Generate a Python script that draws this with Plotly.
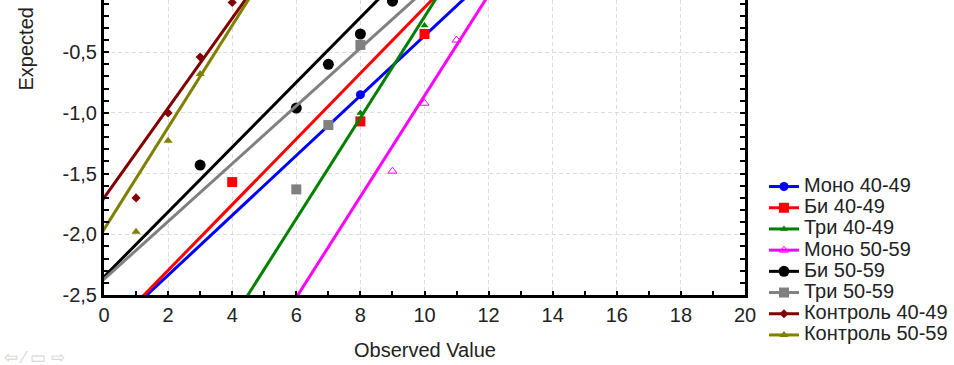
import plotly.graph_objects as go

# ---- data ----
series_names = ["Моно 40-49", "Би 40-49", "Три 40-49", "Моно 50-59",
                "Би 50-59", "Три 50-59", "Контроль 40-49", "Контроль 50-59"]
colors = ["#0000FF", "#FF0000", "#008000", "#FF00FF",
          "#000000", "#808080", "#800000", "#808000"]
symbols = ["circle", "square", "triangle-up", "triangle-up-open",
           "circle", "square", "diamond", "triangle-up"]
msizes = [9, 10, 7, 8, 11, 10, 7, 8]

obs_mono4049 = [8]
exp_mono4049 = [-0.85]
obs_bi4049 = [4, 8, 10]
exp_bi4049 = [-1.57, -1.07, -0.35]
obs_tri4049 = [8, 10]
exp_tri4049 = [-1.00, -0.28]
obs_mono5059 = [9, 10, 11]
exp_mono5059 = [-1.48, -0.92, -0.40]
obs_bi5059 = [3, 6, 7, 8, 9]
exp_bi5059 = [-1.43, -0.96, -0.60, -0.35, -0.08]
obs_tri5059 = [6, 7, 8]
exp_tri5059 = [-1.63, -1.10, -0.44]
obs_k4049 = [1, 2, 3, 4]
exp_k4049 = [-1.70, -1.00, -0.54, -0.09]
obs_k5059 = [1, 2, 3]
exp_k5059 = [-1.98, -1.23, -0.68]

# fitted normal-probability lines: expected = intercept + slope * observed
fit_intercept = [-2.830, -2.838, -4.368, -5.013, -2.35, -2.37, -1.70, -1.96]
fit_slope = [0.2465, 0.2706, 0.416, 0.4154, 0.267, 0.238, 0.37, 0.42]

x_ticks = [0, 2, 4, 6, 8, 10, 12, 14, 16, 18, 20]
y_ticks = [-2.5, -2.0, -1.5, -1.0, -0.5]
y_ticktext = ["-2,5", "-2,0", "-1,5", "-1,0", "-0,5"]

obs = [obs_mono4049, obs_bi4049, obs_tri4049, obs_mono5059,
       obs_bi5059, obs_tri5059, obs_k4049, obs_k5059]
exp = [exp_mono4049, exp_bi4049, exp_tri4049, exp_mono5059,
       exp_bi5059, exp_tri5059, exp_k4049, exp_k5059]

TXT = "#222222"
fig = go.Figure()
line_x = [-1, 21]
for i, name in enumerate(series_names):
    fig.add_trace(go.Scatter(
        x=obs[i], y=exp[i], mode="markers", showlegend=False,
        legendgroup=name, hoverinfo="skip",
        marker=dict(color=colors[i], symbol=symbols[i], size=msizes[i],
                    line=dict(width=1 if "open" in symbols[i] else 0, color=colors[i])),
    ))
    fig.add_trace(go.Scatter(
        x=line_x, y=[fit_intercept[i] + fit_slope[i] * v for v in line_x],
        mode="lines+markers", hoverinfo="skip",
        name='<span style="font-size:20px">' + name + '</span>',
        legendgroup=name,
        line=dict(color=colors[i], width=3),
        marker=dict(color=colors[i], symbol=symbols[i], size=msizes[i]),
    ))

font_family = "Liberation Sans, Arial, sans-serif"
grid_col = "#dcdcdc"
fig.update_layout(
    width=954, height=365,
    margin=dict(l=104, r=209, t=0, b=70),
    paper_bgcolor="white", plot_bgcolor="white",
    font=dict(family=font_family, size=20, color=TXT),
    showlegend=True,
    legend=dict(x=1.0296, y=0.4205, xanchor="left", yanchor="top",
                font=dict(size=14, color=TXT), bgcolor="rgba(0,0,0,0)",
                tracegroupgap=0),
    xaxis=dict(range=[0, 20], tickvals=x_ticks, ticks="inside", ticklen=4,
               tickwidth=2, tickcolor="black", showline=True, linewidth=3,
               linecolor="black", mirror=False, showgrid=True,
               gridcolor=grid_col, griddash="4px,3px", gridwidth=1, zeroline=False,
               automargin=False,
               minor=dict(dtick=1, tick0=0, ticks="inside", ticklen=4,
                          tickwidth=2, tickcolor="black", showgrid=False),
               tickfont=dict(size=20)),
    yaxis=dict(range=[-2.5, -0.07], tickvals=y_ticks, ticktext=y_ticktext,
               ticks="inside", ticklen=5, tickwidth=2, tickcolor="black",
               showline=True, linewidth=3, linecolor="black", mirror="ticks",
               showgrid=True, gridcolor=grid_col, griddash="4px,3px", gridwidth=1,
               zeroline=False, automargin=False,
               minor=dict(dtick=0.1, tick0=-2.5, ticks="inside", ticklen=5,
                          tickwidth=2, tickcolor="black", showgrid=False),
               tickfont=dict(size=20)),
)
fig.add_annotation(text="Observed Value",
                   xref="paper", yref="paper", x=0.5, y=-55 / 295,
                   xanchor="center", yanchor="middle", showarrow=False,
                   font=dict(size=20, color=TXT))
fig.add_annotation(text="Expected Normal Value", textangle=-90,
                   xref="paper", yref="paper", x=-79 / 641, y=(295 - 93) / 295,
                   xanchor="center", yanchor="bottom", showarrow=False,
                   font=dict(size=20, color=TXT))
fig.add_annotation(text="⇦ ⁄ ▭ ⇨",
                   xref="paper", yref="paper", x=-102 / 641, y=-62 / 295,
                   xanchor="left", yanchor="middle", showarrow=False,
                   font=dict(size=17, color="#d4d4d4"))

fig.write_html("out.html", config={"displayModeBar": False, "staticPlot": True},
               post_script="document.body.style.margin='0';")
